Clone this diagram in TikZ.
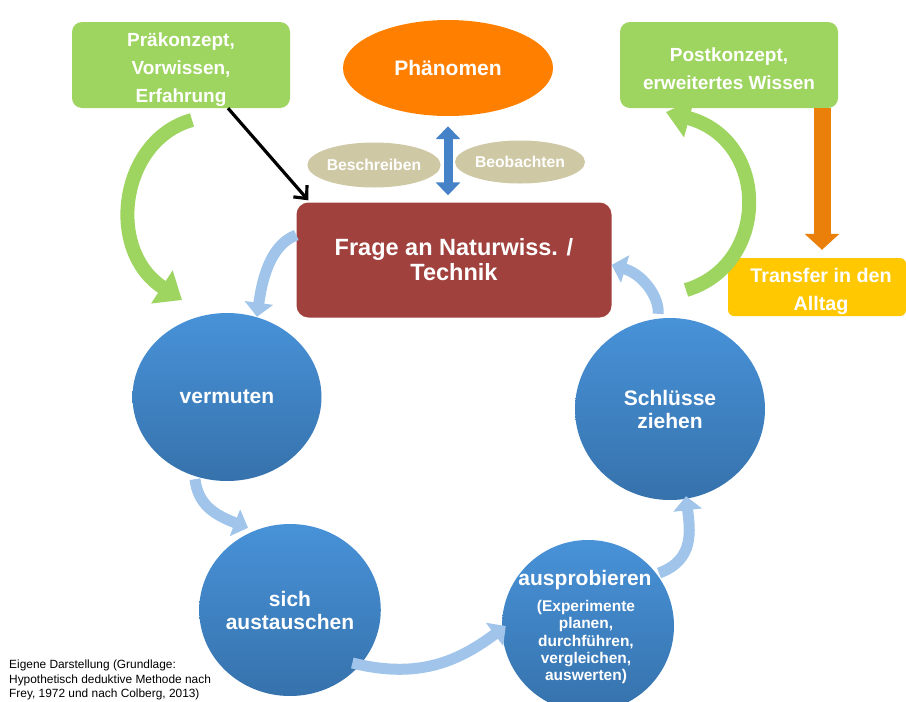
\documentclass[tikz,border=0pt]{standalone}
\usepackage{fontspec}
\setmainfont{Liberation Sans}
\usetikzlibrary{arrows.meta,shapes.geometric}
\definecolor{lgreen}{RGB}{158,212,96}
\definecolor{orng}{RGB}{255,127,0}
\definecolor{dorng}{RGB}{234,128,10}
\definecolor{yel}{RGB}{255,200,0}
\definecolor{tan}{RGB}{206,200,164}
\definecolor{fred}{RGB}{160,65,62}
\definecolor{btop}{RGB}{72,146,216}
\definecolor{bbot}{RGB}{54,114,172}
\definecolor{lblue}{RGB}{160,196,234}
\definecolor{midblue}{RGB}{70,130,200}
\tikzset{
  gbox/.style={draw=none,fill=lgreen,rounded corners=10pt,inner sep=0pt},
  gtext/.style={text=white,font=\bfseries\fontsize{19}{28}\selectfont,align=center,inner sep=0pt},
  circ/.style={ellipse,draw=none,top color=btop,bottom color=bbot,text=white,font=\bfseries\fontsize{21}{23}\selectfont,align=center,inner sep=0pt},
  tanell/.style={ellipse,fill=tan,text=white,font=\bfseries\fontsize{15.7}{18}\selectfont,inner sep=0pt},
  cyc/.style={line width=11pt,lblue,-{Triangle[length=14pt,width=28pt]}},
  grn/.style={line width=14pt,lgreen,-{Triangle[length=24pt,width=38pt]}}
}
\begin{document}
\begin{tikzpicture}[x=1pt,y=-1pt]
\useasboundingbox (0,0) rectangle (906,702);
% boxes
\node[gbox,minimum width=218pt,minimum height=86pt] (pre) at (181,65) {};
\node[gtext] (preT) at (181,70) {Präkonzept,\\Vorwissen,\\Erfahrung};
\node[gbox,minimum width=218pt,minimum height=86pt] (post) at (729,65) {};
\node[gtext] (postT) at (729,69) {Postkonzept,\\erweitertes Wissen};
\node[ellipse,fill=orng,minimum width=210pt,minimum height=96pt,text=white,font=\bfseries\fontsize{21}{24}\selectfont] (phen) at (448,68) {Phänomen};
\node[fill=yel,minimum width=178pt,minimum height=58pt,rounded corners=6pt,inner sep=0pt] (transfer) at (817,287) {};
\node[text=white,font=\bfseries\fontsize{19.7}{28}\selectfont,align=center,inner sep=0pt] (transferT) at (821,291) {Transfer in den\\Alltag};
\node[tanell,minimum width=128pt,minimum height=45pt] (besch) at (374,165) {Beschreiben};
\node[tanell,minimum width=130pt,minimum height=43pt] (beob) at (520,162) {Beobachten};
\node[fill=fred,rounded corners=12pt,minimum width=315pt,minimum height=115pt,text=white,font=\bfseries\fontsize{23.5}{25}\selectfont,align=center,inner sep=0pt] (frage) at (454,260) {Frage an Naturwiss. /\\Technik};
% circles
\node[circ,minimum width=189pt,minimum height=168pt] (verm) at (227,397) {vermuten};
\node[circ,minimum width=181pt,minimum height=172pt] (sich) at (290,610) {sich\\austauschen};
\node[circ,minimum width=172pt,minimum height=172pt] (aus) at (588,626) {};
\node[text=white,font=\bfseries\fontsize{21}{23}\selectfont,inner sep=0pt] (ausT) at (585,580) {ausprobieren};
\node[text=white,font=\bfseries\fontsize{15.5}{17.4}\selectfont,align=center,inner sep=0pt] (ausS) at (586,642) {(Experimente\\planen,\\durchführen,\\vergleichen,\\auswerten)};
\node[circ,minimum width=190pt,minimum height=182pt] (schl) at (670,409) {Schlüsse\\ziehen};
% footnote
\node[anchor=north west,align=left,font=\fontsize{11.9}{14.5}\selectfont,inner sep=0pt] (note) at (9,660) {Eigene Darstellung (Grundlage:\\Hypothetisch deduktive Methode nach\\Frey, 1972 und nach Colberg, 2013)};
% coordinates
\coordinate (g1s) at (192,120);
\coordinate (g1e) at (182,300);
\coordinate (g2s) at (686,290);
\coordinate (g2e) at (666,112);
% green arrows
\draw[grn] (g1s) .. controls (120,140) and (105,250) .. (g1e);
\draw[grn] (g2s) .. controls (770,265) and (770,140) .. (g2e);
% orange arrow
\draw[line width=17pt,dorng,-{Triangle[length=16pt,width=34pt]}] ([xshift=93pt]post.south) -- ([xshift=5pt,yshift=8pt]transfer.north);
% blue double arrow
\draw[line width=9pt,midblue,{Triangle[length=13pt,width=24pt]}-{Triangle[length=13pt,width=24pt]}] ([yshift=-10pt]phen.south) -- ([yshift=7pt]frage.north -| phen.south);
% black arrow
\draw[line width=3.2pt,-{Straight Barb[length=10pt,width=18pt]}] ([xshift=47pt]pre.south) -- ([xshift=12pt,yshift=2pt]frage.north west);
% cycle arrows
\draw[cyc] ([yshift=25pt]frage.west) .. controls (270,245) and (262,280) .. ([xshift=30pt,yshift=-4pt]verm.north);
\draw[cyc] ([xshift=-32pt,yshift=2pt]verm.south) .. controls (198,505) and (215,515) .. ([xshift=-42pt,yshift=-4pt]sich.north);
\draw[cyc] ([xshift=-2pt,yshift=8pt]sich.south east) .. controls (420,680) and (460,660) .. ([xshift=4pt]aus.west);
\draw[cyc] ([xshift=10pt,yshift=-8pt]aus.north east) .. controls (695,560) and (690,530) .. ([xshift=16pt,yshift=4pt]schl.south);
\draw[cyc] ([xshift=-12pt,yshift=4pt]schl.north) .. controls (660,300) and (645,275) .. ([yshift=-5pt]frage.east);
\end{tikzpicture}
\end{document}
